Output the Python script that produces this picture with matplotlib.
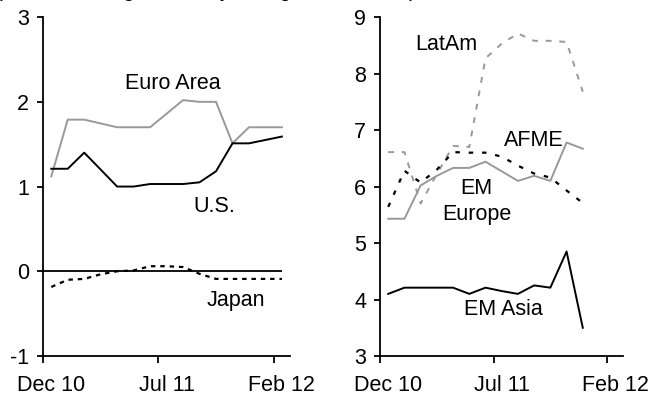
import numpy as np
import matplotlib
matplotlib.use("Agg")
import matplotlib.pyplot as plt

plt.rcParams['font.family'] = ['Liberation Sans', 'DejaVu Sans']
plt.rcParams['axes.unicode_minus'] = False

tick_pos = [0, 7, 14]
tick_labels = ['Dec 10', 'Jul 11', 'Feb 12']

# left panel: advanced economies
euro_area = [1.12, 1.79, 1.79, 1.745, 1.70, 1.70, 1.70, 1.86, 2.02, 2.00, 2.00,
             1.51, 1.70, 1.70, 1.70]
us = [1.21, 1.21, 1.40, 1.20, 1.00, 1.00, 1.03, 1.03, 1.03, 1.05, 1.18,
      1.51, 1.51, 1.55, 1.59]
japan = [-0.185, -0.10, -0.09, -0.035, 0.0, 0.01, 0.06, 0.06, 0.05, -0.03,
         -0.09, -0.09, -0.09, -0.09, -0.09]

# right panel: emerging regions
latam = [6.61, 6.61, 5.70, 6.22, 6.72, 6.70, 8.27, 8.53, 8.71, 8.58, 8.58,
         8.56, 7.68]
afme = [5.43, 5.43, 6.02, 6.19, 6.33, 6.33, 6.44, 6.27, 6.10, 6.19, 6.10,
        6.78, 6.67]
em_europe = [5.64, 6.28, 6.07, 6.30, 6.61, 6.60, 6.60, 6.53, 6.37, 6.23,
             6.16, 5.93, 5.71]
em_asia = [4.10, 4.21, 4.21, 4.21, 4.21, 4.10, 4.21, 4.15, 4.10, 4.25, 4.21,
           4.85, 3.50]

black = '#000000'
gray = '#999999'
fs = 15.5


def style_axis(ax, ylim):
    ax.set_xlim(0, 15)
    ax.set_ylim(*ylim)
    ax.set_yticks(range(ylim[0], ylim[1] + 1))
    # ticks sit on category edges, labels centred on the category
    ax.set_xticks(tick_pos)
    ax.set_xticklabels([])
    ax.set_xticks([p + 0.5 for p in tick_pos], minor=True)
    ax.set_xticklabels(tick_labels, minor=True)
    for side in ['top', 'right']:
        ax.spines[side].set_visible(False)
    for side in ['left', 'bottom']:
        ax.spines[side].set_linewidth(1.3)
        ax.spines[side].set_clip_on(False)
    ax.tick_params(axis='y', length=4, width=1.3, pad=6, labelsize=fs)
    ax.tick_params(axis='x', which='major', length=5, width=1.3)
    ax.tick_params(axis='x', which='minor', length=0, pad=14, labelsize=fs)


fig = plt.figure(figsize=(6.52, 3.95), dpi=100)
ax1 = fig.add_axes([0.066, 0.0987, 0.379, 0.858])
ax2 = fig.add_axes([0.583, 0.0987, 0.373, 0.858])

x1 = np.arange(len(euro_area)) + 0.5
ax1.hlines(0, 0, x1[-1], color=black, lw=1.3)
ax1.plot(x1, euro_area, color=gray, lw=1.4)
ax1.plot(x1, us, color=black, lw=1.4)
ax1.plot(x1, japan, color=black, lw=1.6, linestyle=(0, (2, 2.2)))
style_axis(ax1, (-1, 3))
ax1.text(7.9, 2.22, 'Euro Area', fontsize=fs, ha='center', va='center')
ax1.text(10.4, 0.77, 'U.S.', fontsize=fs, ha='center', va='center')
ax1.text(11.7, -0.34, 'Japan', fontsize=fs, ha='center', va='center')

x2 = np.arange(len(latam)) + 0.5
ax2.plot(x2, latam, color=gray, lw=1.4, linestyle=(0, (3, 4)))
ax2.plot(x2, afme, color=gray, lw=1.4)
ax2.plot(x2, em_europe, color=black, lw=1.6, linestyle=(0, (2, 4)))
ax2.plot(x2, em_asia, color=black, lw=1.4)
style_axis(ax2, (3, 9))
ax2.text(4.1, 8.52, 'LatAm', fontsize=fs, ha='center', va='center')
ax2.text(9.5, 6.82, 'AFME', fontsize=fs, ha='center', va='center')
ax2.text(5.95, 5.97, 'EM', fontsize=fs, ha='center', va='center')
ax2.text(5.95, 5.5, 'Europe', fontsize=fs, ha='center', va='center')
ax2.text(7.6, 3.82, 'EM Asia', fontsize=fs, ha='center', va='center')

# heading sits mostly above the visible area, as in the source
fig.text(-0.002, 1.0 + 4.0 / 395, 'percent change from a year ago, 3mma, sa)',
         fontsize=fs, ha='left', va='baseline')

fig.savefig('out.png', dpi=100)
